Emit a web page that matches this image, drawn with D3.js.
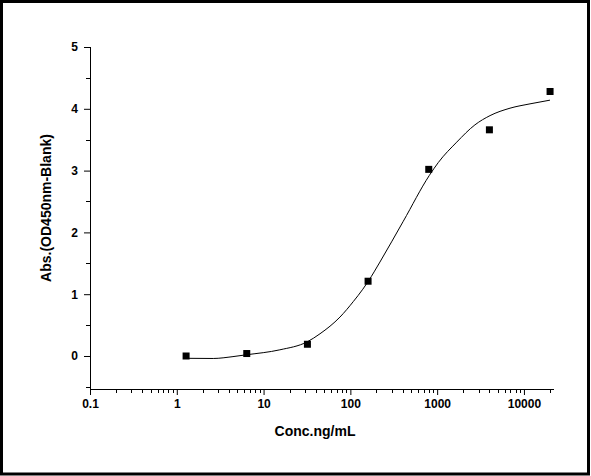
<!DOCTYPE html>
<html>
<head>
<meta charset="utf-8">
<script src="https://cdn.jsdelivr.net/npm/d3@7"></script>
<style>
html,body{margin:0;padding:0;background:#fff;}
svg{display:block;}
text{font-family:"Liberation Sans",Arial,Helvetica,sans-serif;font-weight:bold;fill:#000;}
</style>
</head>
<body>
<svg id="chart" width="591" height="476"></svg>
<script>
// Data
const concentrations = [1.28, 6.4, 32, 160, 800, 4000, 20000];
const absorbance = [0.0, 0.04, 0.19, 1.21, 3.02, 3.66, 4.28];
// Fitted curve
const curveConc = [1.19, 2.63, 4.44, 6.38, 15.4, 31.9, 44.7, 75.9, 108, 139, 161, 219, 407, 811, 1030, 1679, 2725, 4070, 6910, 11750, 19950];
const curveAbs  = [-0.037, -0.04, -0.01, 0.02, 0.10, 0.23, 0.36, 0.63, 0.88, 1.08, 1.21, 1.52, 2.18, 2.92, 3.13, 3.46, 3.74, 3.89, 4.01, 4.08, 4.14];
const xTicks = [0.1, 1, 10, 100, 1000, 10000];
const xTickLabels = ["0.1", "1", "10", "100", "1000", "10000"];
const yTicks = [0, 1, 2, 3, 4, 5];
const xTitle = "Conc.ng/mL";
const yTitle = "Abs.(OD450nm-Blank)";

const svg = d3.select("#chart");
const pLeft = 90, pRight = 554, pTop = 47, pBottom = 389;

const x = d3.scaleLog().domain([0.1, 22200]).range([pLeft, pRight]);
const y = d3.scaleLinear().domain([-0.534, 5]).range([pBottom, pTop]);

// frame
svg.append("rect").attr("x", 1.5).attr("y", 1.5).attr("width", 587).attr("height", 472.5)
  .attr("fill", "none").attr("stroke", "#000").attr("stroke-width", 3);

// minor ticks
const xMinor = [];
for (let d = 0.1; d < 20000; d *= 10) {
  for (let k = 2; k <= 9; k++) { const v = d * k; if (v <= 22200) xMinor.push(v); }
}
xMinor.push(20000);
const yMinor = [-0.5, 0.5, 1.5, 2.5, 3.5, 4.5];

// X axis
const xAxis = d3.axisBottom(x).tickValues(xTicks)
  .tickFormat((d, i) => xTickLabels[i]).tickSizeInner(6).tickSizeOuter(0).tickPadding(4);
const gx = svg.append("g").attr("transform", `translate(0,${pBottom})`).call(xAxis);
gx.selectAll("text").attr("font-size", 12).style("font-weight", "bold");
gx.select(".domain").attr("d", `M${pLeft},0.5H${pRight}`);
gx.selectAll(".minor").data(xMinor).enter().append("line").attr("class", "minor")
  .attr("x1", d => Math.round(x(d)) + 0.5).attr("x2", d => Math.round(x(d)) + 0.5)
  .attr("y1", 0).attr("y2", 4).attr("stroke", "#000");

// Y axis
const yAxis = d3.axisLeft(y).tickValues(yTicks).tickFormat(d3.format("d"))
  .tickSizeInner(6).tickSizeOuter(0).tickPadding(6);
const gy = svg.append("g").attr("transform", `translate(${pLeft},0)`).call(yAxis);
gy.selectAll("text").attr("font-size", 12).style("font-weight", "bold");
gy.select(".domain").attr("d", `M0.5,${pTop}V${pBottom}`);
gy.selectAll(".minor").data(yMinor).enter().append("line").attr("class", "minor")
  .attr("y1", d => Math.round(y(d)) + 0.5).attr("y2", d => Math.round(y(d)) + 0.5)
  .attr("x1", 0).attr("x2", -4).attr("stroke", "#000");

// Titles
svg.append("text").attr("x", 315).attr("y", 436).attr("text-anchor", "middle")
  .attr("font-size", 14).text(xTitle);
svg.append("text").attr("transform", "translate(51,208) rotate(-90)").attr("text-anchor", "middle")
  .attr("font-size", 14).text(yTitle);

// Curve
const curveData = curveConc.map((c, i) => [c, curveAbs[i]]);
const line = d3.line().x(d => x(d[0])).y(d => y(d[1])).curve(d3.curveMonotoneX);
svg.append("path").datum(curveData).attr("d", line).attr("fill", "none")
  .attr("stroke", "#000").attr("stroke-width", 1);

// Points
const pts = concentrations.map((c, i) => [c, absorbance[i]]);
svg.selectAll(".pt").data(pts).enter().append("rect").attr("class", "pt")
  .attr("x", d => x(d[0]) - 3.5).attr("y", d => y(d[1]) - 3.5)
  .attr("width", 7).attr("height", 7).attr("fill", "#000");
</script>
</body>
</html>
